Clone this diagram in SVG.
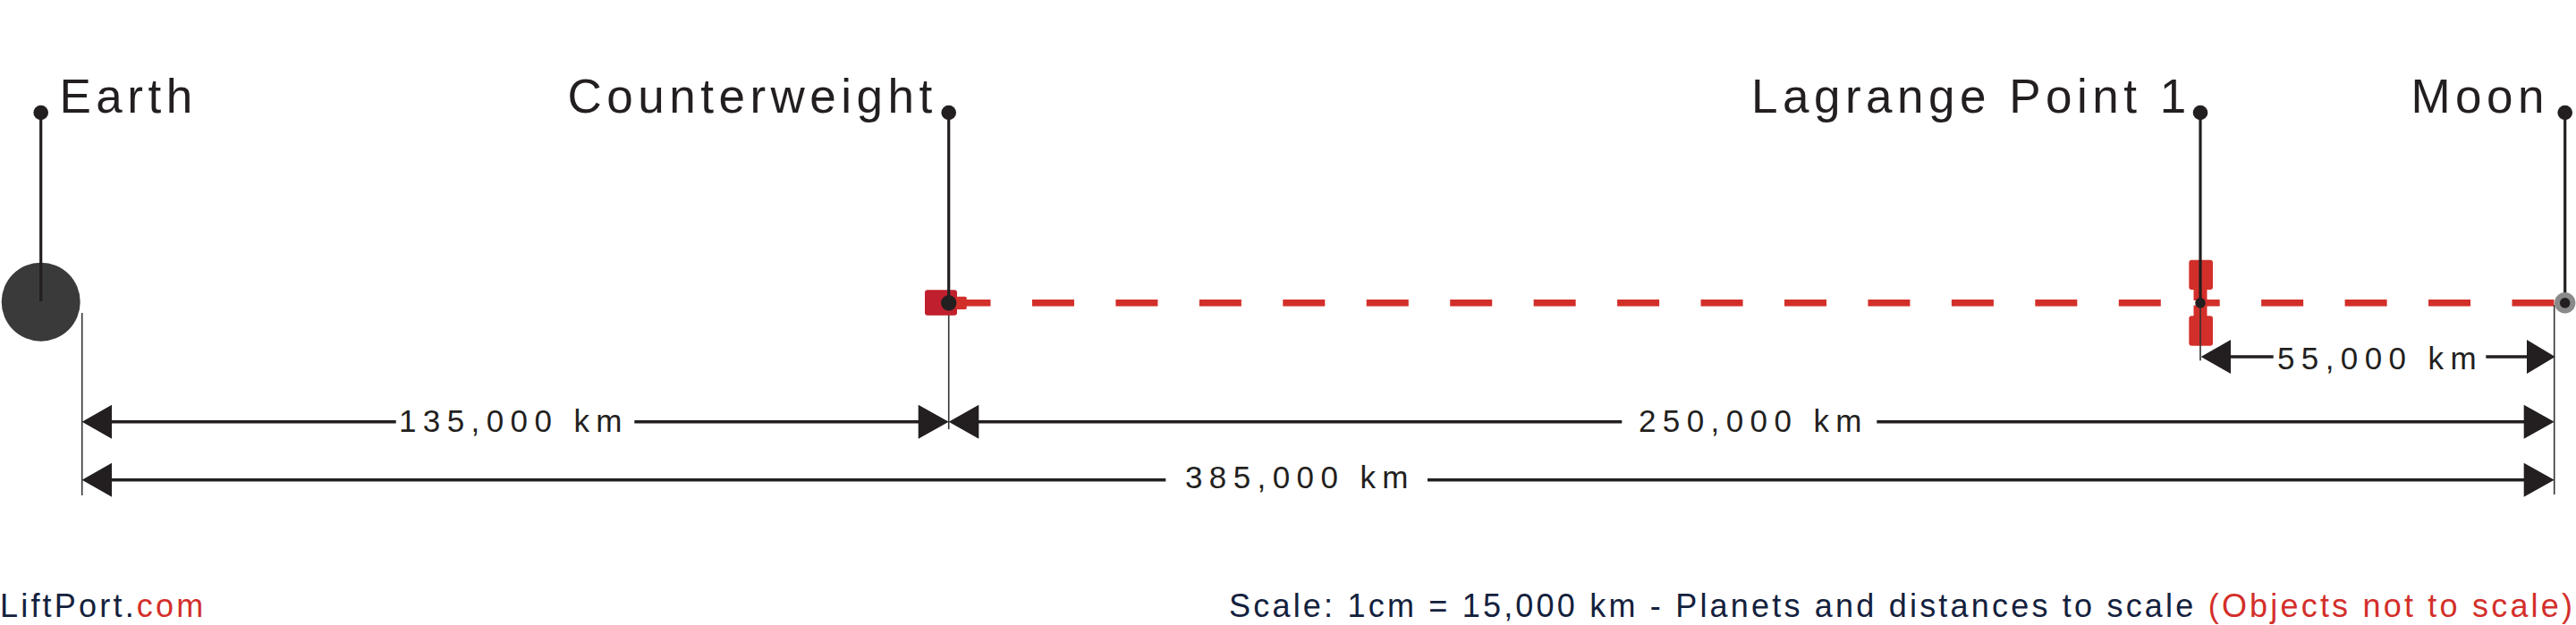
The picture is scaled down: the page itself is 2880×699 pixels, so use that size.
<svg xmlns="http://www.w3.org/2000/svg" width="2880" height="699" viewBox="0 0 2880 699">
<defs>
<style>
.lbl{font-family:"Liberation Sans",Arial,sans-serif;font-size:53px;letter-spacing:5.5px;fill:#231f20}
.dim{font-family:"Liberation Sans",Arial,sans-serif;font-size:35px;letter-spacing:7.4px;fill:#231f20}
.foot{font-family:"Liberation Sans",Arial,sans-serif;font-size:36px;letter-spacing:3.2px;fill:#14213d}
.red{fill:#d32f2a}
.stem{stroke:#231f20;stroke-width:3.2;fill:none}
.tick{stroke:#333;stroke-width:1.6;fill:none}
.dl{stroke:#231f20;stroke-width:3.6;fill:none}
.dash{stroke:#d32f2a;stroke-width:7.5;fill:none;stroke-dasharray:47 46.45}
.ah{fill:#231f20}
.dot{fill:#231f20}
</style>
</defs>
<rect width="2880" height="699" fill="#fff"/>

<g id="connectors">
  <line class="dash" x1="1060.5" y1="338.8" x2="2417" y2="338.8"/>
  <line class="dash" x1="2460" y1="338.8" x2="2857" y2="338.8" style="stroke-dashoffset:25.3"/>
  <line class="tick" x1="91.7" y1="350" x2="91.7" y2="554"/>
  <line class="tick" x1="1060.7" y1="345" x2="1060.7" y2="480"/>
  <line class="tick" x1="2855.7" y1="341" x2="2855.7" y2="553"/>
  <line class="dl" x1="120" y1="471.7" x2="442.7" y2="471.7"/>
  <line class="dl" x1="709.3" y1="471.7" x2="1030" y2="471.7"/>
  <polygon class="ah" points="91.7,471.7 125,452.7 125,490.7"/>
  <polygon class="ah" points="1060.7,471.7 1026.7,452.7 1026.7,490.7"/>
  <line class="dl" x1="1090" y1="471.7" x2="1813.3" y2="471.7"/>
  <line class="dl" x1="2098.3" y1="471.7" x2="2826" y2="471.7"/>
  <polygon class="ah" points="1060.7,471.7 1094.3,452.7 1094.3,490.7"/>
  <polygon class="ah" points="2855.7,471.7 2821.7,452.7 2821.7,490.7"/>
  <line class="dl" x1="120" y1="536.7" x2="1303.3" y2="536.7"/>
  <line class="dl" x1="1596" y1="536.7" x2="2826" y2="536.7"/>
  <polygon class="ah" points="91.7,536.7 125,517.7 125,555.7"/>
  <polygon class="ah" points="2855.7,536.7 2821.7,517.7 2821.7,555.7"/>
  <line class="dl" x1="2490" y1="399" x2="2541.7" y2="399"/>
  <line class="dl" x1="2779.3" y1="399" x2="2829" y2="399"/>
  <polygon class="ah" points="2460.7,399 2494,380 2494,418"/>
  <polygon class="ah" points="2856.7,399 2825,380 2825,418"/>
  <text class="dim" x="446" y="482.7">135,000 km</text>
  <text class="dim" x="1832" y="482.7">250,000 km</text>
  <text class="dim" x="1325" y="546">385,000 km</text>
  <text class="dim" x="2546" y="412.7">55,000 km</text>
</g>

<g id="earth">
  <circle cx="45.7" cy="337.7" r="44" fill="#3a3a3a"/>
  <line class="stem" x1="45.7" y1="126" x2="45.7" y2="337"/>
  <circle class="dot" cx="45.7" cy="126" r="8.3"/>
  <text class="lbl" x="66.5" y="126">Earth</text>
</g>

<g id="counterweight">
  <rect x="1034" y="324.3" width="36" height="28.4" rx="3" fill="#c0202e"/>
  <rect x="1069" y="331.7" width="11.7" height="14.3" rx="1.5" class="red"/>
  <line class="stem" x1="1060.7" y1="126" x2="1060.7" y2="338"/>
  <circle class="dot" cx="1060.7" cy="126" r="8.3"/>
  <circle class="dot" cx="1060.7" cy="338.8" r="8.7"/>
  <text class="lbl" x="634.5" y="126">Counterweight</text>
</g>

<g id="lagrange">
  <rect x="2447.3" y="290.7" width="26.7" height="33.3" rx="3" class="red"/>
  <rect x="2452.5" y="322" width="15" height="14" class="red"/>
  <rect x="2452.5" y="341.5" width="15" height="14" class="red"/>
  <rect x="2447.3" y="353.3" width="26.7" height="33.4" rx="3" class="red"/>
  <line class="stem" x1="2460" y1="126" x2="2460" y2="338"/>
  <line class="tick" x1="2460" y1="338" x2="2460" y2="403.3"/>
  <circle class="dot" cx="2460" cy="126" r="8.3"/>
  <circle class="dot" cx="2460" cy="338.8" r="5.8"/>
  <text class="lbl" x="1958" y="126">Lagrange Point 1</text>
</g>

<g id="moon">
  <line class="stem" x1="2867.7" y1="126" x2="2867.7" y2="338"/>
  <circle cx="2867.7" cy="338.8" r="11.7" fill="#8a8a8a"/>
  <circle class="dot" cx="2867.7" cy="338.8" r="5.8"/>
  <circle class="dot" cx="2867.7" cy="126" r="8.3"/>
  <text class="lbl" x="2695.4" y="126">Moon</text>
</g>

<g id="footer">
  <text class="foot" x="0" y="690">LiftPort.<tspan class="red">com</tspan></text>
  <text class="foot" x="1374" y="690">Scale: 1cm = 15,000 km - Planets and distances to scale <tspan class="red">(Objects not to scale)</tspan></text>
</g>
</svg>
